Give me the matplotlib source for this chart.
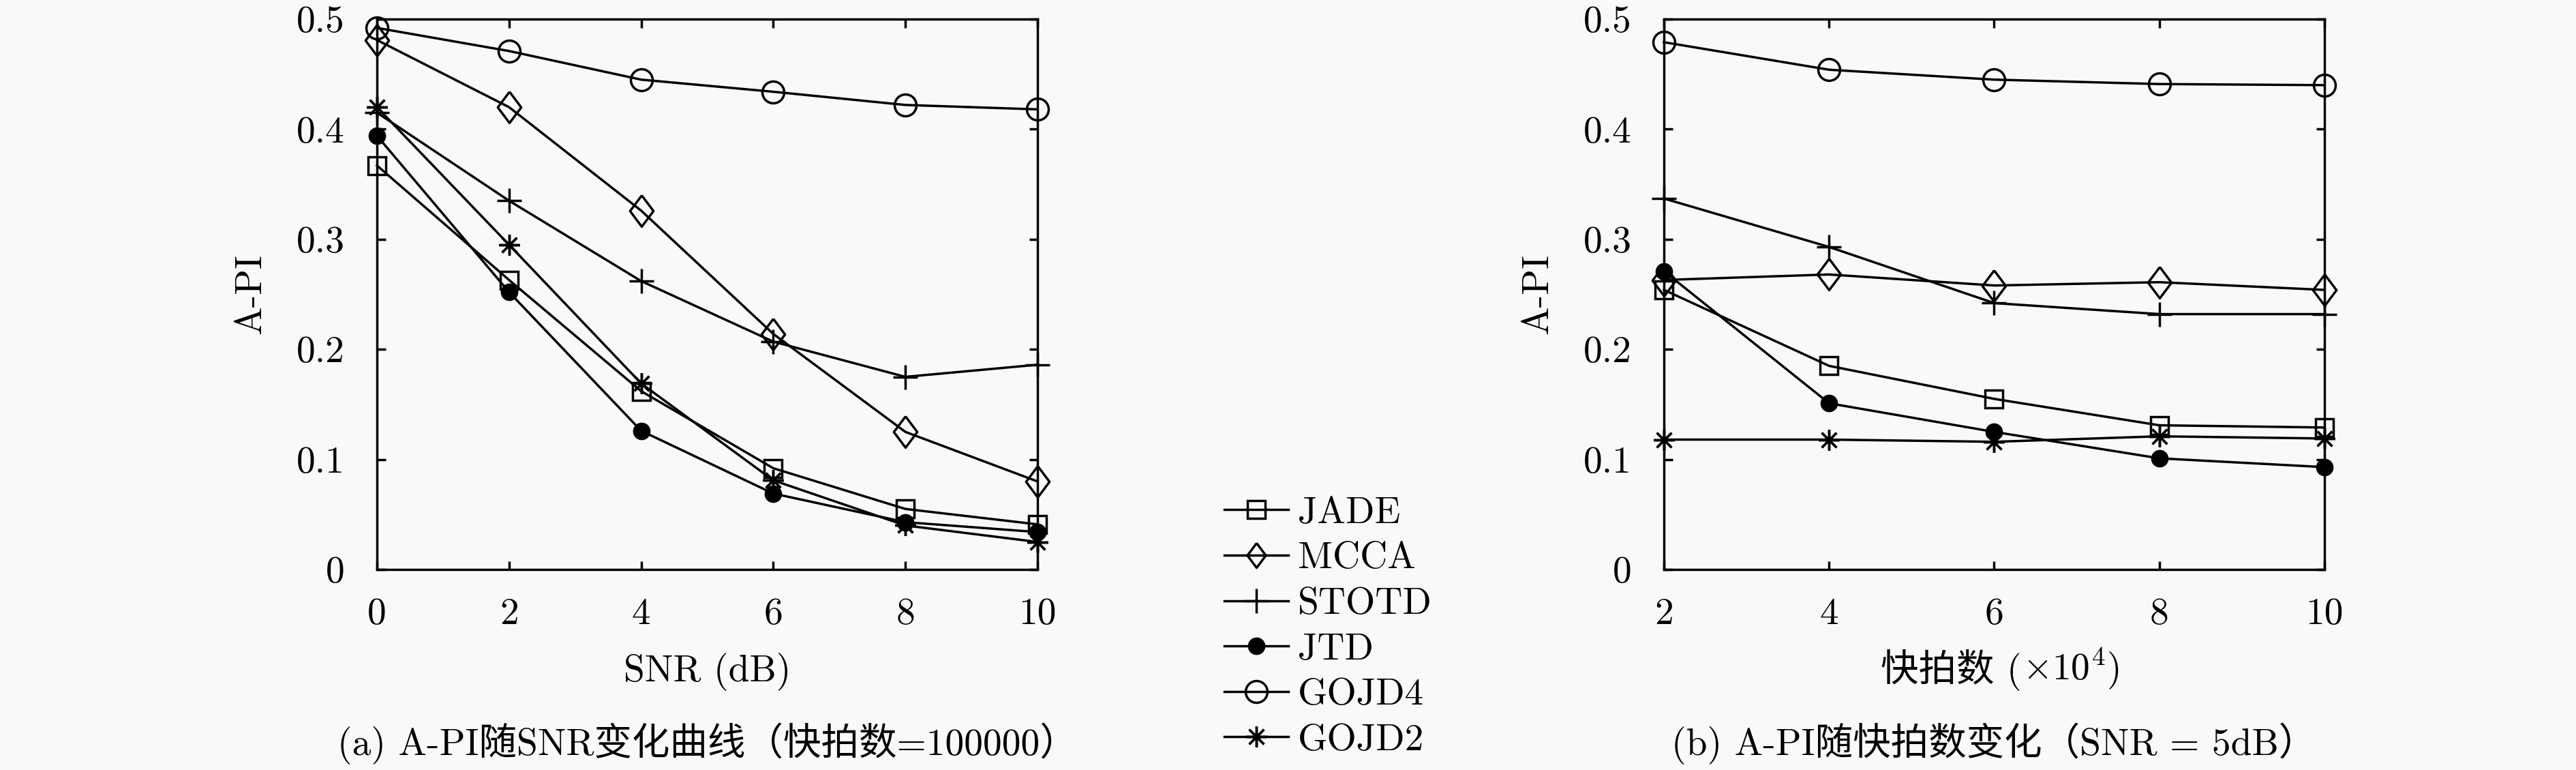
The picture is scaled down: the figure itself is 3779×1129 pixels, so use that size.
import matplotlib
matplotlib.use("Agg")
import matplotlib.pyplot as plt
from matplotlib.lines import Line2D

plt.rcParams['font.family'] = ['cmr10', 'Noto Sans CJK SC', 'DejaVu Serif']
plt.rcParams['mathtext.fontset'] = 'cm'
plt.rcParams['axes.formatter.use_mathtext'] = True

# ---------------- data ----------------
snr = [0, 2, 4, 6, 8, 10]
snap = [2, 4, 6, 8, 10]

series_names = ["JADE", "MCCA", "STOTD", "JTD", "GOJD4", "GOJD2"]

a_jade = [0.367, 0.263, 0.162, 0.092, 0.055, 0.041]
a_mcca = [0.481, 0.420, 0.326, 0.214, 0.125, 0.080]
a_stotd = [0.415, 0.335, 0.262, 0.207, 0.175, 0.186]
a_jtd = [0.394, 0.252, 0.126, 0.069, 0.043, 0.034]
a_gojd4 = [0.492, 0.471, 0.445, 0.434, 0.422, 0.418]
a_gojd2 = [0.420, 0.295, 0.169, 0.081, 0.040, 0.025]

b_jade = [0.254, 0.185, 0.155, 0.131, 0.129]
b_mcca = [0.263, 0.268, 0.258, 0.261, 0.254]
b_stotd = [0.337, 0.293, 0.242, 0.232, 0.232]
b_jtd = [0.271, 0.151, 0.125, 0.101, 0.093]
b_gojd4 = [0.479, 0.454, 0.445, 0.441, 0.440]
b_gojd2 = [0.118, 0.118, 0.116, 0.121, 0.119]

yticks = [0, 0.1, 0.2, 0.3, 0.4, 0.5]
ytick_labels = ["0", "0.1", "0.2", "0.3", "0.4", "0.5"]
xticks_a = [0, 2, 4, 6, 8, 10]
xticks_b = [2, 4, 6, 8, 10]

xlabel_a = "SNR (dB)"
xlabel_b_main = "快拍数 ("
xlabel_b_math = r"$\times10^4$"
xlabel_b_end = ")"
ylabel = "A-PI"
caption_a = "(a) A-PI随SNR变化曲线（快拍数=100000）"
caption_b = "(b) A-PI随快拍数变化（SNR = 5dB）"

# ---------------- styles ----------------
diamond = [(0, 1), (0.75, 0), (0, -1), (-0.75, 0), (0, 1)]
styles = {
    "JADE": dict(marker='s', ms=19, mfc='none'),
    "MCCA": dict(marker=diamond, ms=33, mfc='none'),
    "STOTD": dict(marker='+', ms=26),
    "JTD": dict(marker='o', ms=16, mfc='black'),
    "GOJD4": dict(marker='o', ms=23, mfc='none'),
    "GOJD2": dict(marker=(8, 2, 0), ms=22),
}
LW = 2.5
FS = 40
BG = '#f9f9f9'

fig = plt.figure(figsize=(37.8, 11.29), dpi=100, facecolor=BG)
axA = fig.add_axes([553 / 3780, 1 - 835 / 1129, 969 / 3780, 807 / 1129])
axB = fig.add_axes([2441 / 3780, 1 - 835 / 1129, 969 / 3780, 807 / 1129])

data_a = [a_jade, a_mcca, a_stotd, a_jtd, a_gojd4, a_gojd2]
data_b = [b_jade, b_mcca, b_stotd, b_jtd, b_gojd4, b_gojd2]

for ax, xs, data, xt in [(axA, snr, data_a, xticks_a),
                         (axB, snap, data_b, xticks_b)]:
    ax.set_facecolor(BG)
    for name, ys in zip(series_names, data):
        st = styles[name]
        ax.plot(xs, ys, color='black', lw=LW, marker=st['marker'], ms=st['ms'],
                mfc=st.get('mfc', 'black'), mec='black', mew=LW, clip_on=False,
                zorder=3)
    ax.set_xlim(xt[0], xt[-1])
    ax.set_ylim(0, 0.5)
    ax.set_xticks(xt)
    ax.set_xticklabels([str(v) for v in xt])
    ax.set_yticks(yticks)
    ax.set_yticklabels(ytick_labels)
    ax.tick_params(direction='in', top=True, right=True, length=9, width=LW,
                   labelsize=FS)
    ax.tick_params(axis='x', pad=30)
    ax.tick_params(axis='y', pad=34)
    for sp in ax.spines.values():
        sp.set_linewidth(LW)
    ax.set_ylabel(ylabel, fontsize=FS, labelpad=30)

axA.set_xlabel(xlabel_a, fontsize=FS, labelpad=22)

# x label of panel (b): CJK text + math part, laid out side by side
xb_y = 1 - 982 / 1129
cx = (2441 + 3410) / 2 / 3780
fig.canvas.draw()
r = fig.canvas.get_renderer()
t1 = fig.text(0, xb_y, xlabel_b_main, fontsize=FS, va='center', ha='left')
t2 = fig.text(0, xb_y, xlabel_b_math, fontsize=FS, va='center', ha='left')
t3 = fig.text(0, xb_y, xlabel_b_end, fontsize=FS, va='center', ha='left')
w1 = t1.get_window_extent(r).width
w2 = t2.get_window_extent(r).width
w3 = t3.get_window_extent(r).width
W = fig.bbox.width
total = w1 + w2 + w3 + 4
x0 = cx * W - total / 2 + 10
t1.set_x(x0 / W)
t2.set_x((x0 + w1 + 2) / W)
t3.set_x((x0 + w1 + w2 + 4) / W)

fig.text((553 + 1522) / 2 / 3780, 1 - 1090 / 1129, caption_a, fontsize=FS,
         ha='center', va='center')
fig.text((2441 + 3410) / 2 / 3780, 1 - 1090 / 1129, caption_b, fontsize=FS,
         ha='center', va='center')

handles = []
for name in series_names:
    st = styles[name]
    ms = st['ms'] if name != "MCCA" else 26
    handles.append(Line2D([], [], color='black', lw=LW, marker=st['marker'],
                          ms=ms, mfc=st.get('mfc', 'black'), mec='black',
                          mew=LW))
leg = fig.legend(handles, series_names, loc='upper left',
                 bbox_to_anchor=(1796 / 3780, 1 - 728 / 1129),
                 frameon=False, fontsize=FS, handlelength=1.7,
                 handletextpad=0.25, labelspacing=0.3, borderpad=0,
                 borderaxespad=0)

fig.savefig("out.png", dpi=100, facecolor=BG)
